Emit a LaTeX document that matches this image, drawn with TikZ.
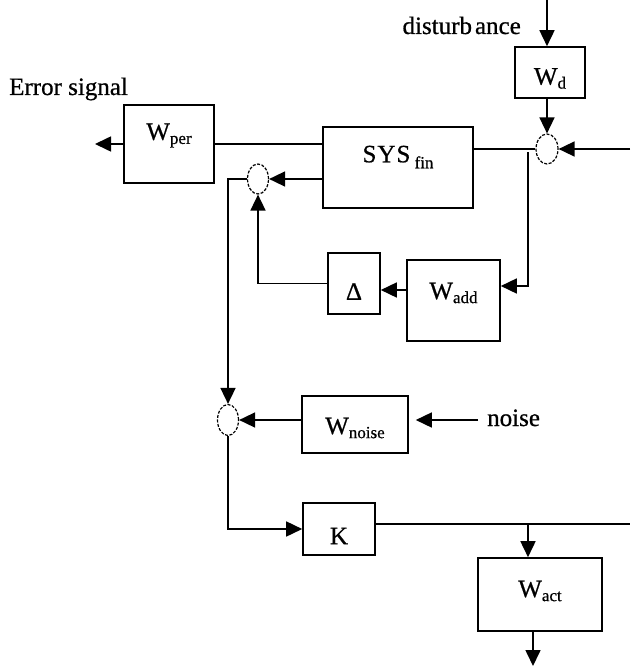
\documentclass[tikz,border=0pt]{standalone}
\usepackage{fontspec}
\setmainfont{Liberation Serif}[FakeBold=0.7]
\usetikzlibrary{arrows.meta,shapes.geometric}
\newcommand\sbs[1]{\raisebox{-4pt}{\fontsize{17}{17}\selectfont #1}}
\begin{document}
\begin{tikzpicture}[x=1pt,y=-1pt,
  txt/.style={font=\fontsize{25}{28}\selectfont, inner sep=0pt},
  lab/.style={font=\fontsize{25}{28}\selectfont, inner sep=0pt, anchor=base},
  blk/.style={draw, line width=1.6pt, inner sep=0pt},
  sumnode/.style={draw, ellipse, line width=1.2pt, dash pattern=on 3pt off 1.5pt,
    minimum width=21pt, minimum height=30pt, inner sep=0pt},
  wire/.style={line width=1.6pt},
  arr/.style={wire, -{Triangle[length=16pt,width=15pt]}}]
\useasboundingbox (0,0) rectangle (630,666);
% blocks
\node[blk, minimum width=90pt, minimum height=78pt,
  label={[lab, name=wperT, yshift=8.5pt]center:W\sbs{per}}] (wper) at (169,144) {};
\node[blk, minimum width=150pt, minimum height=81pt,
  label={[lab, name=sysT, yshift=10.5pt]center:S\kern1ptY\kern1ptS\,\raisebox{-2pt}{\sbs{fin}}}] (sys) at (398,167.5) {};
\node[blk, minimum width=70pt, minimum height=51pt,
  label={[lab, name=wdT, yshift=-6pt]center:W\sbs{d}}] (wd) at (550,72.5) {};
\node[blk, minimum width=52pt, minimum height=61pt,
  label={[lab, name=deltaT, yshift=-8pt]center:Δ}] (delta) at (354,283.5) {};
\node[blk, minimum width=93pt, minimum height=81pt,
  label={[lab, name=waddT, yshift=7.5pt]center:W\sbs{add}}] (wadd) at (453.5,300.5) {};
\node[blk, minimum width=106pt, minimum height=57pt,
  label={[lab, name=wnoiseT, yshift=-3.5pt]center:W\sbs{noise}}] (wnoise) at (355,424.5) {};
\node[blk, minimum width=72pt, minimum height=52pt,
  label={[lab, name=kT, yshift=-7pt]center:K}] (k) at (339,529) {};
\node[blk, minimum width=124pt, minimum height=73pt,
  label={[lab, name=wactT, yshift=3.5pt]center:W\sbs{act}}] (wact) at (540,594.5) {};
% summing junctions
\node[sumnode] (s1) at (258,179) {};
\node[sumnode, minimum width=22pt] (s3) at (547,149) {};
\node[sumnode, minimum height=31pt] (s2) at (228,420) {};
% texts
\node[txt, anchor=base west] (err) at (9,95) {Error signal};
\node[txt, anchor=base east] (dist) at (521,34) {disturb\kern3pt ance};
\node[txt, anchor=base west] (noise) at (487,426) {noise};
% free ends
\coordinate (errend) at (95,144);
\coordinate (tap) at (528,152);
\coordinate (rin) at (630,149);
\coordinate (dtop) at (547,0);
\coordinate (nin) at (478,420);
\coordinate (kout) at (630,524);
\coordinate (kb) at (528,524);
\coordinate (actout) at (533,666);
% connectors
\draw[arr] (wper.west) -- (errend);
\draw[wire] (wper.east) -- (wper.east -| sys.west);
\draw[arr] (sys.west |- s1.east) -- (s1.east);
\draw[arr] (s1.west) -| (s2.north);
\draw[arr] (delta.west) -| (s1.south);
\draw[arr] ([yshift=10.5pt]wadd.west) -- ([yshift=10.5pt]wadd.west -| delta.east);
\draw[arr] (tap) |- ([yshift=14.5pt]wadd.east);
\draw[wire] (sys.east |- s3.west) -- (s3.west);
\draw[arr] (rin) -- (s3.east);
\draw[arr] (dtop) -- (dtop |- wd.north);
\draw[arr] (wd.south -| s3.north) -- (s3.north);
\draw[arr, shorten >=7pt] (nin) -- (nin -| wnoise.east);
\draw[arr] (wnoise.west |- s2.east) -- (s2.east);
\draw[arr] (s2.south) |- (k.west);
\draw[wire] (k.east |- kout) -- (kout);
\draw[arr] (kb) -- (kb |- wact.north);
\draw[arr] (wact.south -| actout) -- (actout);
\end{tikzpicture}
\end{document}
